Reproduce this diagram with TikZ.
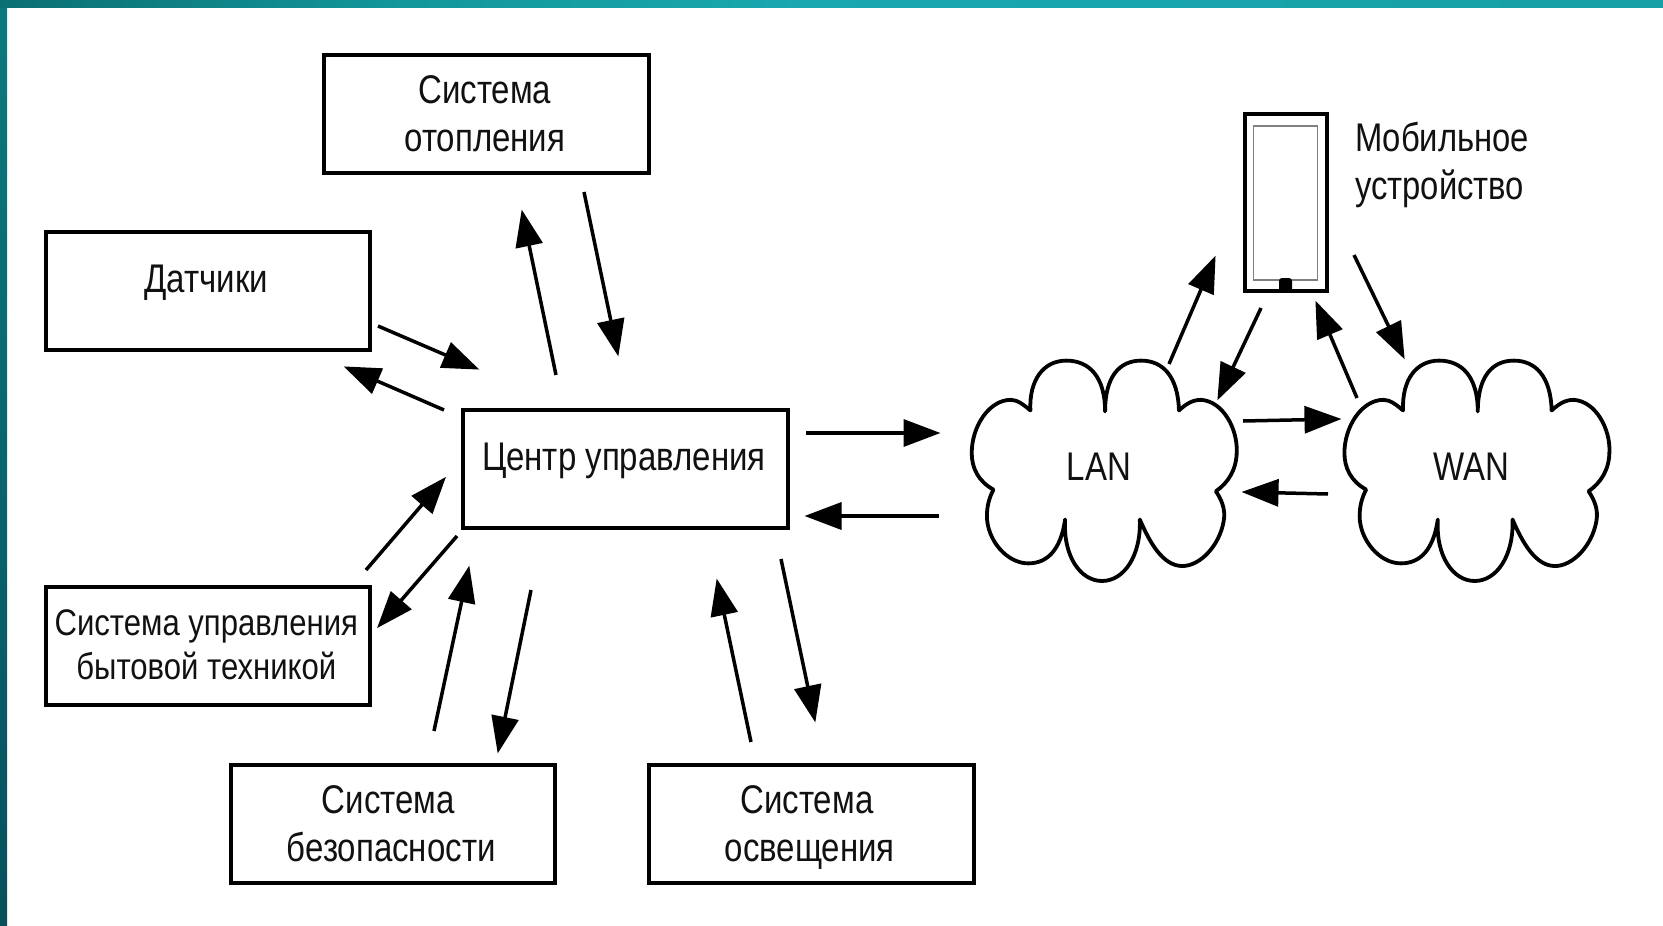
\documentclass[tikz,border=0pt]{standalone}
\usepackage{fontspec}
\setmainfont{Liberation Sans}
\usetikzlibrary{arrows.meta}
\definecolor{inkc}{HTML}{111111}
\definecolor{barA}{HTML}{0B6F72}
\definecolor{barB}{HTML}{12979A}
\definecolor{barC}{HTML}{19A8AE}
\definecolor{barD}{HTML}{17A0A6}
\definecolor{sideA}{HTML}{0B7A7E}
\definecolor{sideB}{HTML}{07505C}
% #1 = true vertical shift, #2 = text
\newcommand{\lbl}[2]{\raisebox{#1}[\height][\depth]{\scalebox{.825}[1]{\fontsize{40}{48}\selectfont\begin{tabular}{@{}c@{}}#2\end{tabular}}}\hspace*{3pt}}
\newcommand{\lblsmall}[2]{\raisebox{#1}[\height][\depth]{\scalebox{.84}[1]{\fontsize{37}{44.5}\selectfont\begin{tabular}{@{}c@{}}#2\end{tabular}}}\hspace*{3pt}}
\tikzset{
  sysbox/.style={draw=black,line width=4pt,fill=white,inner sep=0pt,minimum width=324.5pt,minimum height=118pt,text=inkc},
  flow/.style={draw=black,line width=3.5pt,shorten >=-1.5pt,-{Triangle[length=37pt,width=27pt]}},
  cloudline/.style={draw=black,line width=3.8pt,line join=round,fill=white},
  plain/.style={inner sep=0pt,text=inkc},
}
\newcommand{\conn}[3]{%
  \coordinate (#1s) at (#2);\coordinate (#1e) at (#3);
  \draw[flow] (#1s) -- (#1e);}
\newcommand{\cloudshape}[1]{%
  \begin{scope}[shift={(#1)},x=.4344pt,y=-.3324pt]
  \path[cloudline] (185,212) .. controls (182,120) and (215,62) .. (268,62)
   .. controls (320,62) and (357,110) .. (357,215)
   .. controls (357,110) and (390,62) .. (440,62)
   .. controls (490,62) and (525,110) .. (527,212)
   .. controls (545,190) and (560,180) .. (578,180)
   .. controls (630,185) and (662,270) .. (660,335)
   .. controls (660,390) and (640,430) .. (612,455)
   .. controls (625,480) and (635,510) .. (630,545)
   .. controls (620,620) and (575,680) .. (535,680)
   .. controls (490,680) and (460,610) .. (437,540)
   .. controls (440,650) and (400,725) .. (350,725)
   .. controls (300,725) and (260,650) .. (265,540)
   .. controls (255,630) and (225,672) .. (180,672)
   .. controls (130,672) and (85,600) .. (85,530)
   .. controls (85,500) and (90,475) .. (100,450)
   .. controls (65,425) and (50,385) .. (50,340)
   .. controls (50,260) and (90,180) .. (140,180)
   .. controls (155,180) and (170,195) .. (185,212) -- cycle;
  \end{scope}}
\begin{document}
\begin{tikzpicture}[x=1pt,y=-1pt]
\useasboundingbox (0,0) rectangle (1663,926);
\fill[white] (0,0) rectangle (1663,926);
% frame bars
\shade[top color=sideA,bottom color=sideB] (0,0) rectangle (7,926);
\shade[left color=barA,right color=barB] (0,0) rectangle (400,7);
\shade[left color=barB,right color=barC] (400,0) rectangle (800,7);
\shade[left color=barC,right color=barD] (800,0) rectangle (1663,7);
% boxes
\node[sysbox] (heat) at (486.3,113.5) {\lbl{-4.2pt}{Система\\отопления}};
\node[sysbox] (sens) at (207.8,290.5) {\lbl{7.5pt}{Датчики}};
\node[sysbox] (ctrl) at (625.3,468.5) {\lbl{8pt}{Центр управления}};
\node[sysbox] (appl) at (207.8,646) {\lblsmall{-2.6pt}{Система управления\\бытовой техникой}};
\node[sysbox] (secu) at (392.8,824) {\lbl{-4.2pt}{Система\hspace*{7pt}\\безопасности}};
\node[sysbox] (lite) at (811.3,824) {\lbl{-4.2pt}{Система\hspace*{7pt}\\освещения}};
% clouds
\cloudshape{950,340}
\cloudshape{1322.7,340}
\node[plain] (lan) at (1100.5,471) {\lbl{0pt}{LAN}};
\node[plain] (wan) at (1472.5,471) {\lbl{0pt}{WAN}};
% phone
\node[draw=black,line width=4pt,fill=white,minimum width=82pt,minimum height=177pt,inner sep=0pt] (phone) at (1285.5,202) {};
\node[draw=black!50,line width=1.2pt,minimum width=64pt,minimum height=154pt,inner sep=0pt] (screen) at (1285.5,203) {};
\node[fill=black,rounded corners=3pt,minimum width=13pt,minimum height=14pt,inner sep=0pt] (btn) at (1285.5,285) {};
\node[plain,anchor=west] (mob) at (1355,166) {\scalebox{.82}[1]{\fontsize{40}{48}\selectfont\begin{tabular}{@{}l@{}}Мобильное\\устройство\end{tabular}}};
% connectors
\conn{a}{584,192}{618,355}
\conn{b}{556,375}{522,211}
\conn{c}{378,326}{478,369}
\conn{d}{444,410}{345,367}
\conn{e}{366,570}{445,478}
\conn{f}{457,536}{378,627}
\conn{g}{434,731}{469,567}
\conn{h}{531,590}{498,752}
\conn{i}{751,742}{717,580}
\conn{j}{781,559}{815,721}
\conn{k}{806,433}{939,433}
\conn{l}{939,516}{806,516}
\conn{m}{1243,421}{1340,419}
\conn{n}{1328,494}{1243,492}
\conn{o}{1169,364}{1215,257}
\conn{p}{1261,308}{1218,399}
\conn{q}{1357,398}{1316,302}
\conn{r}{1354,255}{1404,358}
\end{tikzpicture}
\end{document}
